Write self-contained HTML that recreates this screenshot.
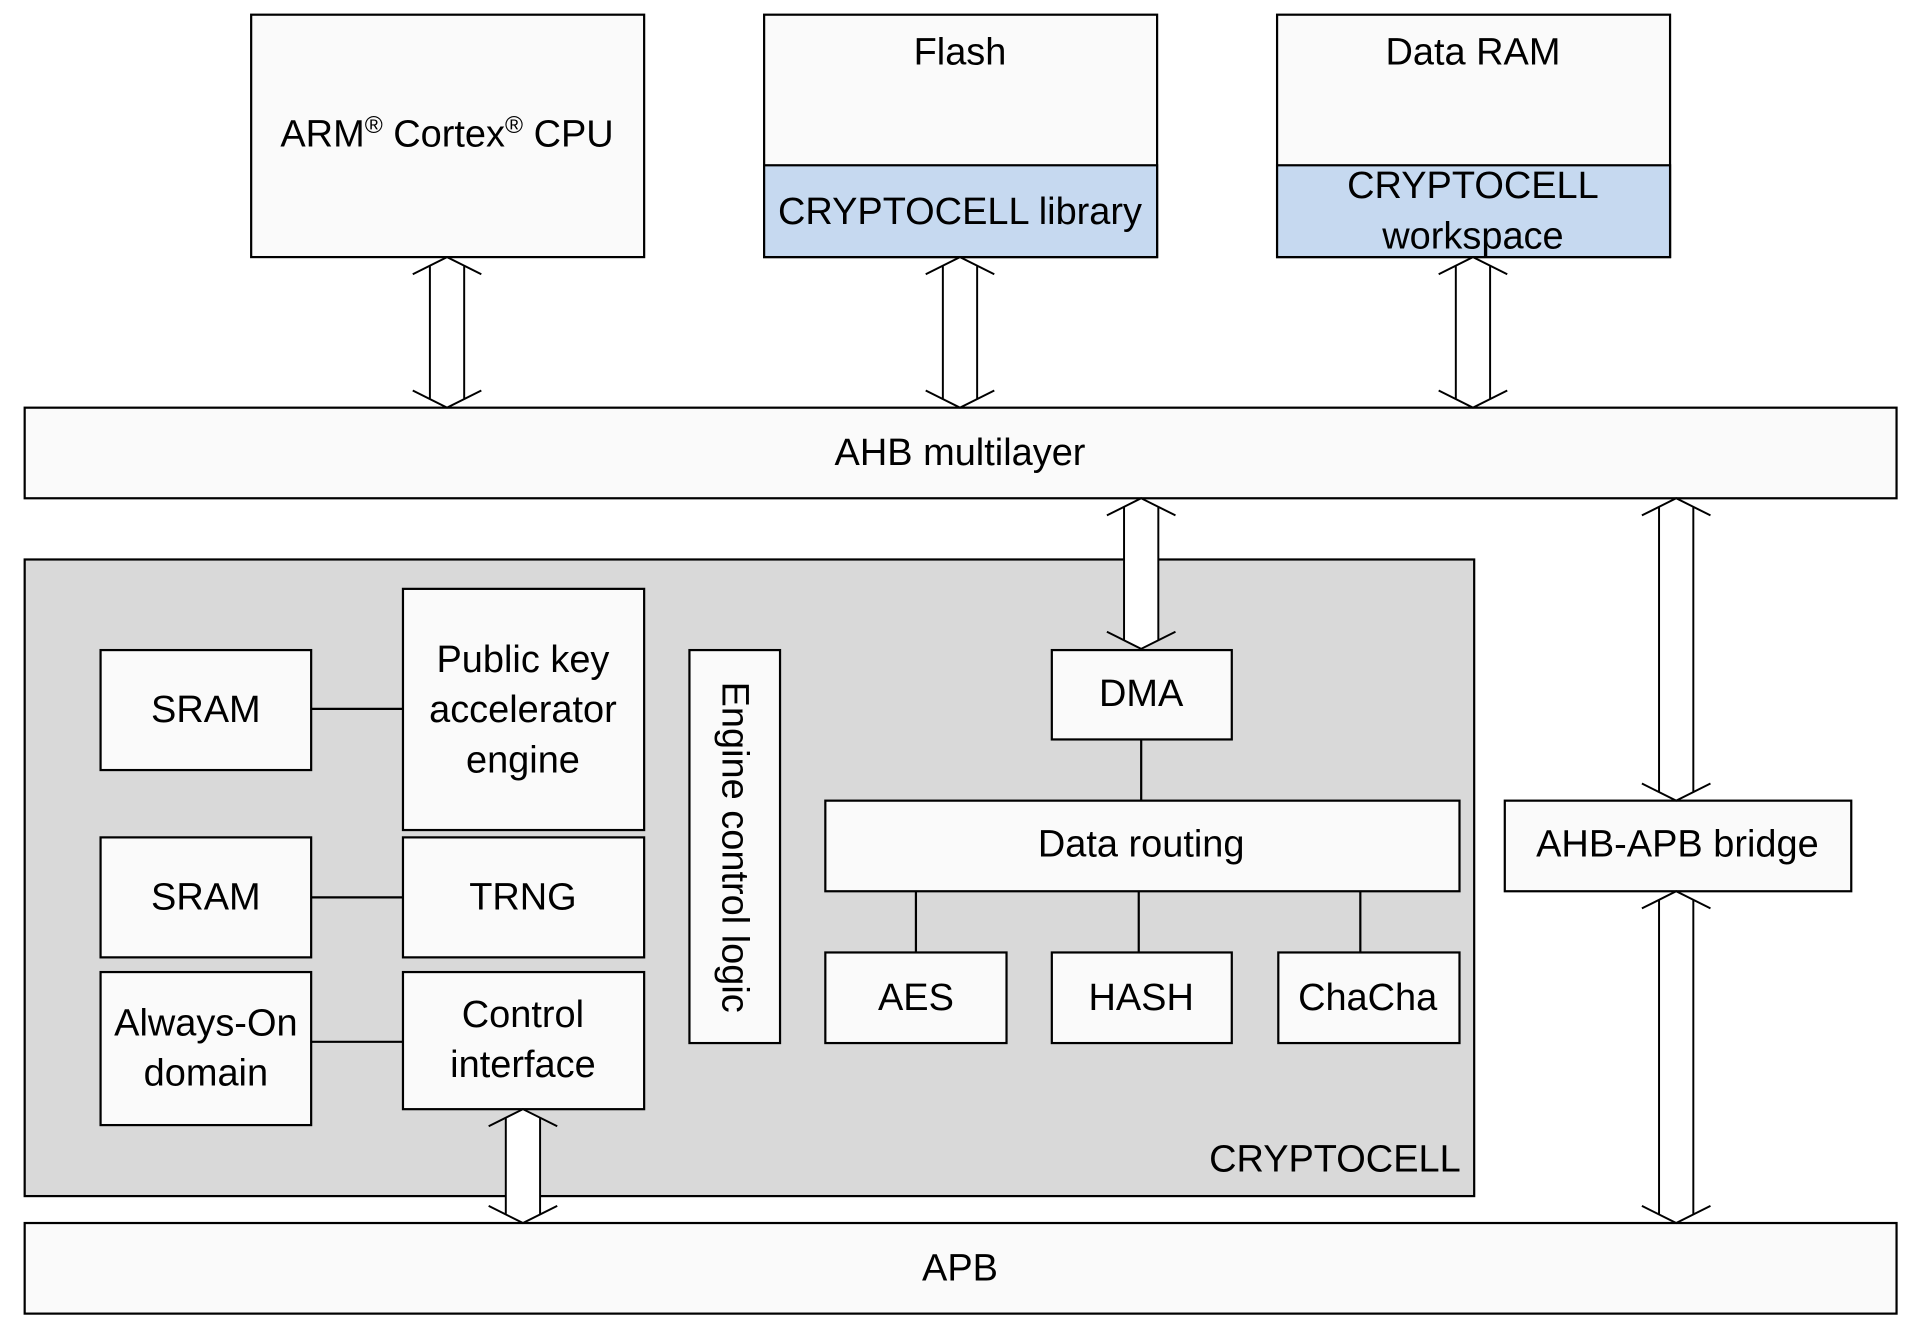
<!DOCTYPE html>
<html><head><meta charset="utf-8"><style>
html,body{margin:0;padding:0;background:#fff;}
svg{display:block}
text{font-family:"Liberation Sans",sans-serif;font-size:31px;fill:#000;text-anchor:middle;dominant-baseline:central}
.b{fill:#fafafa;stroke:#000;stroke-width:1.8}
.l{stroke:#000;stroke-width:1.8;fill:none}
</style></head><body>
<svg width="1920" height="1343" viewBox="0 0 1568 1097" xmlns="http://www.w3.org/2000/svg">
<rect class="b" x="205" y="12" width="321" height="198" fill="#fff"/>
<text x="365" y="110">ARM<tspan dy="-8" font-size="20">®</tspan><tspan dy="8"> Cortex</tspan><tspan dy="-8" font-size="20">®</tspan><tspan dy="8"> CPU</tspan></text>
<rect class="b" x="624" y="12" width="321" height="198"/>
<rect x="624" y="135" width="321" height="75" fill="#c6d9f0" stroke="#000" stroke-width="1.8"/>
<text x="784" y="43">Flash</text>
<text x="784" y="173">CRYPTOCELL library</text>
<rect class="b" x="1043" y="12" width="321" height="198"/>
<rect x="1043" y="135" width="321" height="75" fill="#c6d9f0" stroke="#000" stroke-width="1.8"/>
<text x="1203" y="43">Data RAM</text>
<text x="1203" y="152">CRYPTOCELL</text>
<text x="1203" y="193">workspace</text>

<rect class="b" x="20" y="333" width="1529" height="74" fill="#fff"/>
<text x="784" y="370">AHB multilayer</text>

<rect x="20" y="457" width="1184" height="520" fill="#d9d9d9" stroke="#000" stroke-width="1.8"/>
<text x="1193" y="947" style="text-anchor:end">CRYPTOCELL</text>

<rect class="b" x="82" y="531" width="172" height="98"/><text x="168" y="580">SRAM</text>
<rect class="b" x="329" y="481" width="197" height="197"/>
<text x="427" y="539">Public key</text><text x="427" y="580">accelerator</text><text x="427" y="621">engine</text>
<rect class="b" x="82" y="684" width="172" height="98"/><text x="168" y="733">SRAM</text>
<rect class="b" x="329" y="684" width="197" height="98"/><text x="427" y="733">TRNG</text>
<rect class="b" x="82" y="794" width="172" height="125"/>
<text x="168" y="836">Always-On</text><text x="168" y="877">domain</text>
<rect class="b" x="329" y="794" width="197" height="112"/>
<text x="427" y="829">Control</text><text x="427" y="870">interface</text>
<line class="l" x1="254" y1="579" x2="329" y2="579"/>
<line class="l" x1="254" y1="733" x2="329" y2="733"/>
<line class="l" x1="254" y1="851" x2="329" y2="851"/>

<rect class="b" x="563" y="531" width="74" height="321"/>
<text x="600" y="692" transform="rotate(90 600 692)">Engine control logic</text>

<rect class="b" x="859" y="531" width="147" height="73"/><text x="932" y="567">DMA</text>
<rect class="b" x="674" y="654" width="518" height="74"/><text x="932" y="690">Data routing</text>
<rect class="b" x="674" y="778" width="148" height="74"/><text x="748" y="815">AES</text>
<rect class="b" x="859" y="778" width="147" height="74"/><text x="932" y="815">HASH</text>
<rect class="b" x="1044" y="778" width="148" height="74"/><text x="1117" y="815">ChaCha</text>
<line class="l" x1="932" y1="604" x2="932" y2="654"/>
<line class="l" x1="748" y1="728" x2="748" y2="778"/>
<line class="l" x1="930" y1="728" x2="930" y2="778"/>
<line class="l" x1="1111" y1="728" x2="1111" y2="778"/>

<rect class="b" x="1229" y="654" width="283" height="74" fill="#fff"/>
<text x="1370" y="690">AHB-APB bridge</text>

<rect class="b" x="20" y="999" width="1529" height="74" fill="#fff"/>
<text x="784" y="1036">APB</text>

<g id="arrows" stroke="#000" stroke-width="1.6" fill="none"></g>
<script>
(function(){
var g=document.getElementById('arrows');
var A=[[365,210,333],[784,210,333],[1203,210,333],[932,407,530],[427,906,999],[1369,407,654],[1369,728,999]];
var ns='http://www.w3.org/2000/svg';
A.forEach(function(a){
 var c=a[0],t=a[1],b=a[2];
 var p=document.createElementNS(ns,'polygon');
 p.setAttribute('points',[c,t,c+14,t+7,c+14,b-7,c,b,c-14,b-7,c-14,t+7].join(' '));
 p.setAttribute('fill','#fff');p.setAttribute('stroke','none');g.appendChild(p);
 var d='M'+(c-28)+' '+(t+14)+' L'+c+' '+t+' L'+(c+28)+' '+(t+14)+
 ' M'+(c-28)+' '+(b-14)+' L'+c+' '+b+' L'+(c+28)+' '+(b-14)+
 ' M'+(c-14)+' '+(t+7)+' V'+(b-7)+' M'+(c+14)+' '+(t+7)+' V'+(b-7);
 var q=document.createElementNS(ns,'path');q.setAttribute('d',d);g.appendChild(q);
});
})();
</script>
</svg>
</body></html>
